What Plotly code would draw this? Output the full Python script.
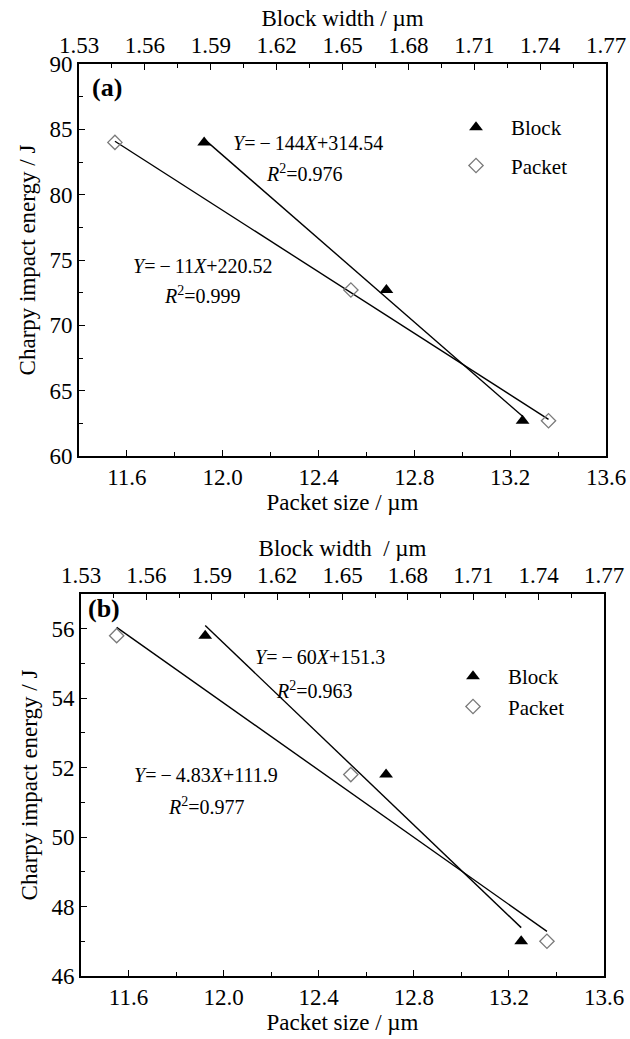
import numpy as np
import plotly.graph_objects as go

W, H = 630, 1039

# ---- data ----
packet_size = [11.55, 12.535, 13.36]          # µm (bottom axis)
block_width = [1.587, 1.670, 1.732]          # µm (top axis)
energy_a_block = [84.0, 72.7, 62.7]          # J
energy_a_packet = [84.0, 72.7, 62.7]
energy_b_block = [55.8, 51.8, 47.0]
energy_b_packet = [55.8, 51.8, 47.0]

M = "\u2009\u2212\u2009"
eq_a_block = [f"<i>Y</i>={M}144<i>X</i>+314.54", "<i>R</i><sup>2</sup>=0.976"]
eq_a_packet = [f"<i>Y</i>={M}11<i>X</i>+220.52", "<i>R</i><sup>2</sup>=0.999"]
eq_b_block = [f"<i>Y</i>={M}60<i>X</i>+151.3", "<i>R</i><sup>2</sup>=0.963"]
eq_b_packet = [f"<i>Y</i>={M}4.83<i>X</i>+111.9", "<i>R</i><sup>2</sup>=0.977"]

FONT = "Liberation Serif, Times New Roman, DejaVu Serif, serif"
def px(x): return x / W
def py(y): return 1 - y / H

fig = go.Figure()

def fit_line(xs, ys):
    k, b = np.polyfit(xs, ys, 1)
    xe = np.array([min(xs), max(xs)])
    return xe, k * xe + b

def panel(xb, xt, yax, eb, ep, legend):
    lx, ly = fit_line(block_width, eb)
    fig.add_trace(go.Scatter(x=lx, y=ly, mode="lines", line=dict(color="black", width=1.4),
                             xaxis=xt, yaxis=yax, showlegend=False, hoverinfo="skip"))
    lx, ly = fit_line(packet_size, ep)
    fig.add_trace(go.Scatter(x=lx, y=ly, mode="lines", line=dict(color="black", width=1.4),
                             xaxis=xb, yaxis=yax, showlegend=False, hoverinfo="skip"))
    fig.add_trace(go.Scatter(x=block_width, y=eb, mode="markers", name="Block",
                             marker=dict(symbol="triangle-up", color="black", size=12),
                             xaxis=xt, yaxis=yax, legend=legend, legendgroup=legend + "b"))
    fig.add_trace(go.Scatter(x=packet_size, y=ep, mode="markers", name="Packet",
                             marker=dict(symbol="diamond-open", color="#7a7a7a", size=11,
                                         line=dict(width=1.3)),
                             xaxis=xb, yaxis=yax, legend=legend, legendgroup=legend + "p"))

panel("x", "x2", "y", energy_a_block, energy_a_packet, "legend")
panel("x3", "x4", "y3", energy_b_block, energy_b_packet, "legend2")

tickfont = dict(family=FONT, size=23, color="black")
titlefont = dict(family=FONT, size=23, color="black")
common = dict(showline=True, linecolor="black", linewidth=1.6, ticks="inside",
              tickcolor="black", tickwidth=1.4, ticklen=6, tickfont=tickfont,
              showgrid=False, zeroline=False, automargin=False)
minor_x = dict(ticks="inside", ticklen=4, tickcolor="black", tickwidth=1.2)

xa_dom = [px(79), px(606)]
xb_dom = [px(81), px(604)]
ya_dom = [py(456), py(64)]
yb_dom = [py(976), py(594)]

leg_font = dict(family=FONT, size=21, color="black")

fig.update_layout(
    xaxis=dict(domain=xa_dom, anchor="y", range=[11.4, 13.6], tick0=11.6, dtick=0.4,
               tickformat=".1f", minor=dict(dtick=0.2, tick0=11.6, **minor_x),
               title=dict(text="Packet size / µm", font=titlefont, standoff=0), **common),
    xaxis2=dict(overlaying="x", side="top", anchor="y", range=[1.53, 1.77], tick0=1.53,
                dtick=0.03, tickformat=".2f", minor=dict(dtick=0.015, tick0=1.53, **minor_x),
                title=dict(text="Block width / µm", font=titlefont, standoff=0), **common),
    yaxis=dict(domain=ya_dom, anchor="x", range=[60, 90], dtick=5, mirror=True,
               minor=dict(dtick=2.5, **minor_x),
               title=dict(text="Charpy impact energy / J", font=titlefont, standoff=8), **common),
    xaxis3=dict(domain=xb_dom, anchor="y3", range=[11.4, 13.6], tick0=11.6, dtick=0.4,
                tickformat=".1f", minor=dict(dtick=0.2, tick0=11.6, **minor_x),
                title=dict(text="Packet size / µm", font=titlefont, standoff=0), **common),
    xaxis4=dict(overlaying="x3", side="top", anchor="y3", range=[1.53, 1.77], tick0=1.53,
                dtick=0.03, tickformat=".2f", minor=dict(dtick=0.015, tick0=1.53, **minor_x),
                title=dict(text="Block width  / µm", font=titlefont, standoff=0), **common),
    yaxis3=dict(domain=yb_dom, anchor="x3", range=[46, 57], dtick=2, tick0=46, mirror=True,
                minor=dict(dtick=1, tick0=46, **minor_x),
                title=dict(text="Charpy impact energy / J", font=titlefont, standoff=8), **common),
    width=W, height=H, margin=dict(l=0, r=0, t=0, b=0),
    plot_bgcolor="white", paper_bgcolor="white",
    font=dict(family=FONT, color="black"),
    legend=dict(x=px(441), y=py(107), xanchor="left", yanchor="top", font=leg_font,
                bgcolor="rgba(0,0,0,0)", traceorder="grouped", tracegroupgap=8, itemwidth=60),
    legend2=dict(x=px(438), y=py(656), xanchor="left", yanchor="top", font=leg_font,
                 bgcolor="rgba(0,0,0,0)", traceorder="grouped", tracegroupgap=0, itemwidth=60),
)

ann_font = dict(family=FONT, size=20, color="black")
def txt(x, y, s, font=ann_font):
    fig.add_annotation(x=px(x), y=py(y), xref="paper", yref="paper", text=s,
                       showarrow=False, font=font, xanchor="center", yanchor="middle")

bold = dict(family=FONT, size=26, color="black")
fig.add_annotation(x=px(90), y=py(87), xref="paper", yref="paper", text="<b>(a)</b>",
                   showarrow=False, font=bold, xanchor="left", yanchor="middle")
fig.add_annotation(x=px(86), y=py(608), xref="paper", yref="paper", text="<b>(b)</b>",
                   showarrow=False, font=bold, xanchor="left", yanchor="middle")

txt(308, 143, eq_a_block[0]); txt(304, 173, eq_a_block[1])
txt(202, 266, eq_a_packet[0]); txt(202, 295, eq_a_packet[1])
txt(320, 657, eq_b_block[0]); txt(314, 690, eq_b_block[1])
txt(206, 775, eq_b_packet[0]); txt(206, 806, eq_b_packet[1])

fig.write_html("out.html", config={"displayModeBar": False},
               post_script="document.body.style.margin='0';document.body.style.overflow='hidden';")
